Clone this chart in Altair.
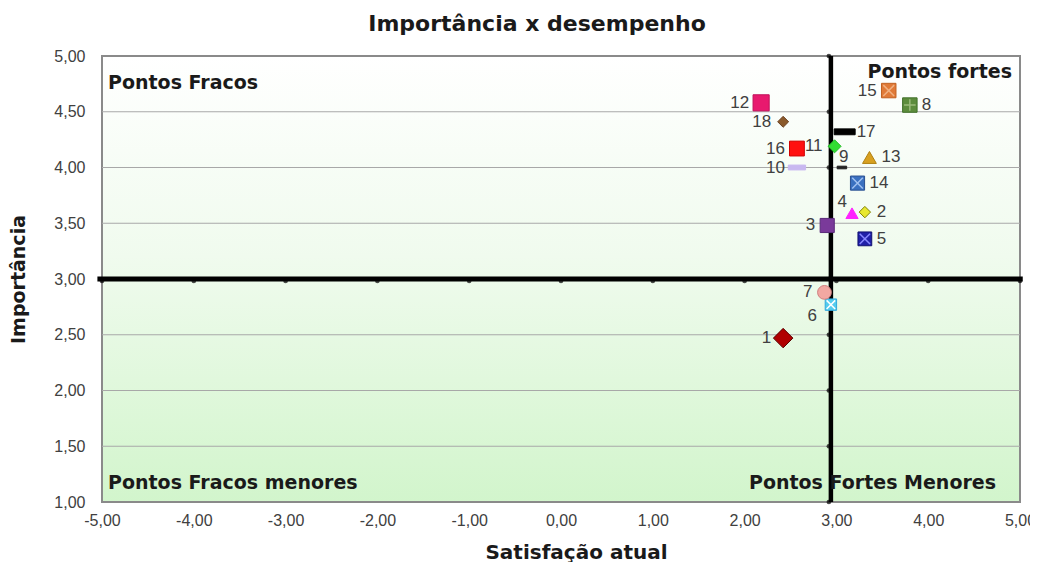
import altair as alt
import pandas as pd

# ---- data ----
ids = list(range(1, 19))
satisfacao = [2.42, 3.31, 2.90, 3.17, 3.31, 2.94, 2.87, 3.80, 3.06, 2.57,
              2.98, 2.18, 3.36, 3.23, 3.57, 2.57, 3.09, 2.42]
importancia = [2.47, 3.60, 3.48, 3.59, 3.36, 2.77, 2.88, 4.56, 4.00, 4.00,
               4.19, 4.58, 4.09, 3.86, 4.69, 4.17, 4.32, 4.41]
y_ticks = [1.0, 1.5, 2.0, 2.5, 3.0, 3.5, 4.0, 4.5, 5.0]
x_ticks = [-5, -4, -3, -2, -1, 0, 1, 2, 3, 4, 5]
x_mid = 2.94
y_mid = 3.0
quad_text = ["Pontos Fracos", "Pontos fortes", "Pontos Fracos menores", "Pontos Fortes Menores"]
quad_x = [-5, 5, -5, 5]
quad_y = [4.76, 4.86, 1.17, 1.17]

# ---- styles per item ----
SQ = "square"
DASH = "M-1,-0.28H1V0.28H-1Z"
XP = "M-0.75,-0.75L0.75,0.75M-0.75,0.75L0.75,-0.75"
PP = "M0,-0.8L0,0.8M-0.8,0L0.8,0"
style = {
    1: ("diamond", "#b00000", "#5a0000", 380),
    2: ("diamond", "#e8e830", "#808000", 130),
    3: (SQ, "#7a3a9a", "#5a2a7a", 200),
    4: ("triangle-up", "#ff22ff", "#ff22ff", 150),
    5: (SQ, "#2020a8", "#101070", 190),
    6: (SQ, "#55ccee", "#33aadd", 130),
    7: ("circle", "#f2a8a2", "#d08080", 190),
    8: (SQ, "#5c8c3c", "#40702a", 210),
    9: (DASH, "#222222", "#222222", 90),
    10: (DASH, "#c8b8f0", "#c8b8f0", 300),
    11: ("diamond", "#33dd33", "#22bb22", 170),
    12: (SQ, "#e8196e", "#c0105a", 260),
    13: ("triangle-up", "#d8a020", "#b08010", 190),
    14: (SQ, "#3a70c0", "#2a5090", 200),
    15: (SQ, "#e07a38", "#c06020", 210),
    16: (SQ, "#ff1010", "#d00000", 220),
    17: (DASH, "#000000", "#000000", 440),
    18: ("diamond", "#8b5a2b", "#6a4020", 120),
}
overlay = {5: (XP, "#8888ff"), 6: (XP, "#ffffff"), 8: (PP, "#9aba7a"),
           14: (XP, "#a0c0f0"), 15: (XP, "#f0b080")}
label_pos = {1: "L", 2: "R", 3: "L", 4: "LT", 5: "R", 6: "LB", 7: "L", 8: "R",
             9: "RT", 10: "L", 11: "L", 12: "L", 13: "R", 14: "R", 15: "L",
             16: "L", 17: "R", 18: "L"}

df = pd.DataFrame({
    "id": ids, "x": satisfacao, "y": importancia,
    "shape": [style[i][0] for i in ids],
    "fill": [style[i][1] for i in ids],
    "stroke": [style[i][2] for i in ids],
    "size": [style[i][3] for i in ids],
    "pos": [label_pos[i] for i in ids],
    "label": [str(i) for i in ids],
})
ov = pd.DataFrame({
    "x": [satisfacao[i - 1] for i in overlay],
    "y": [importancia[i - 1] for i in overlay],
    "shape": [overlay[i][0] for i in overlay],
    "col": [overlay[i][1] for i in overlay],
    "size": [style[i][3] for i in overlay],
})

FONT = "Liberation Sans"
BFONT = "DejaVu Sans"
xs = alt.Scale(domain=[-5, 5], nice=False, zero=False)
ys = alt.Scale(domain=[1, 5], nice=False, zero=False)
lab = "replace(replace(format(datum.value, '.2f'), '.', ','), '\u2212', '-')"

bg = alt.Chart(pd.DataFrame({"x": [-5], "x2": [5], "y": [1], "y2": [5]})).mark_rect(
    color=alt.Gradient(gradient="linear", x1=0, x2=0, y1=0, y2=1,
                       stops=[alt.GradientStop(color="#ffffff", offset=0),
                              alt.GradientStop(color="#f0fbee", offset=0.45),
                              alt.GradientStop(color="#d2f5cc", offset=1)]),
    stroke="#8a8a8a", strokeWidth=2,
).encode(
    x=alt.X("x:Q", scale=xs, axis=alt.Axis(
        values=x_ticks, labelExpr=lab, grid=False, domain=False, ticks=False,
        labelFontSize=16, labelColor="#404040", labelPadding=10, labelFont=FONT,
        title="Satisfação atual", titleFontSize=20, titleFontWeight="bold",
        titleFont=BFONT, titleColor="#1a1a1a", titlePadding=14, labelFlush=False,
        titleX=474, titleAlign="center")),
    x2="x2:Q",
    y=alt.Y("y:Q", scale=ys, axis=alt.Axis(
        values=y_ticks, labelExpr=lab, grid=False, domain=False, ticks=False,
        labelFontSize=16, labelColor="#404040", labelPadding=17, labelFont=FONT,
        title="Importância", titleFontSize=19, titleFontWeight="bold",
        titleFont=BFONT, titleColor="#1a1a1a", titlePadding=25)),
    y2="y2:Q",
)

grid = alt.Chart(pd.DataFrame({"y": y_ticks[1:-1]})).mark_rule(
    color="#a8a8a8", strokeWidth=1.2
).encode(y=alt.Y("y:Q", scale=ys))

hline = alt.Chart(pd.DataFrame({"x": [-5.05], "x2": [5.03], "y": [y_mid]})).mark_rule(
    color="#000000", strokeWidth=5
).encode(x=alt.X("x:Q", scale=xs), x2="x2:Q", y=alt.Y("y:Q", scale=ys))

vline = alt.Chart(pd.DataFrame({"x": [x_mid], "y": [1], "y2": [5]})).mark_rule(
    color="#000000", strokeWidth=4.5
).encode(x=alt.X("x:Q", scale=xs), y=alt.Y("y:Q", scale=ys), y2="y2:Q")

hdots = alt.Chart(pd.DataFrame({"x": x_ticks, "y": [y_mid] * len(x_ticks)})).mark_point(
    filled=True, color="#000000", size=22, shape="circle", yOffset=2
).encode(x=alt.X("x:Q", scale=xs), y=alt.Y("y:Q", scale=ys))

vdots = alt.Chart(pd.DataFrame({"x": [x_mid] * len(y_ticks), "y": y_ticks})).mark_point(
    filled=True, color="#000000", size=22, shape="circle", xOffset=-2
).encode(x=alt.X("x:Q", scale=xs), y=alt.Y("y:Q", scale=ys))

pts = alt.Chart(df).mark_point(filled=True, strokeWidth=1, opacity=1).encode(
    x=alt.X("x:Q", scale=xs), y=alt.Y("y:Q", scale=ys),
    shape=alt.Shape("shape:N", scale=None),
    fill=alt.Fill("fill:N", scale=None),
    stroke=alt.Stroke("stroke:N", scale=None),
    size=alt.Size("size:Q", scale=None),
)

ovl = alt.Chart(ov).mark_point(filled=False, strokeWidth=1.5, opacity=1).encode(
    x=alt.X("x:Q", scale=xs), y=alt.Y("y:Q", scale=ys),
    shape=alt.Shape("shape:N", scale=None),
    stroke=alt.Stroke("col:N", scale=None),
    size=alt.Size("size:Q", scale=None),
)

offs = {"L": (-12, 0, "right"), "R": (12, 0, "left"), "LT": (-5, -11, "right"),
        "LB": (-14, 11, "right"), "RT": (-3, -11, "left")}
label_layers = []
for k, (dx, dy, al) in offs.items():
    label_layers.append(
        alt.Chart(df).transform_filter(alt.datum.pos == k).mark_text(
            dx=dx, dy=dy, align=al, baseline="middle", fontSize=17,
            color="#404040", font=FONT
        ).encode(x=alt.X("x:Q", scale=xs), y=alt.Y("y:Q", scale=ys), text="label:N")
    )

qdf = pd.DataFrame({"t": quad_text, "x": quad_x, "y": quad_y})
qleft = alt.Chart(qdf.iloc[[0, 2]]).mark_text(
    align="left", dx=6, baseline="middle", fontSize=19, fontWeight="bold",
    color="#1a1a1a", font=BFONT
).encode(x=alt.X("x:Q", scale=xs), y=alt.Y("y:Q", scale=ys), text="t:N")
qright = alt.Chart(qdf.iloc[[1]]).mark_text(
    align="right", dx=-8, baseline="middle", fontSize=19, fontWeight="bold",
    color="#1a1a1a", font=BFONT
).encode(x=alt.X("x:Q", scale=xs), y=alt.Y("y:Q", scale=ys), text="t:N")
qright2 = alt.Chart(qdf.iloc[[3]]).mark_text(
    align="right", dx=-24, baseline="middle", fontSize=19, fontWeight="bold",
    color="#1a1a1a", font=BFONT
).encode(x=alt.X("x:Q", scale=xs), y=alt.Y("y:Q", scale=ys), text="t:N")

chart = alt.layer(
    bg, grid, hline, vline, hdots, vdots, pts, ovl, *label_layers, qleft, qright, qright2
).properties(
    width=918, height=446,
    title=alt.TitleParams("Importância x desempenho", fontSize=22, fontWeight="bold",
                          color="#1a1a1a", font=BFONT, anchor="middle", dx=-24, offset=12),
    autosize=alt.AutoSizeParams(type="none"),
    padding={"left": 94, "top": 48, "right": 10, "bottom": 60},
).configure(font=FONT).configure_view(stroke=None)

chart.save("out.html", embed_options={"renderer": "svg", "actions": False})
